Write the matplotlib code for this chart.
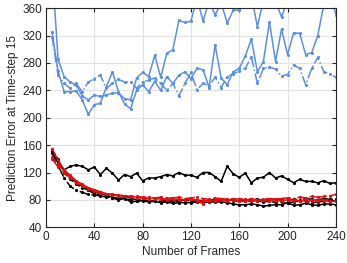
import numpy as np
import matplotlib
matplotlib.use("Agg")
import matplotlib.pyplot as plt

plt.rcParams['font.family'] = ['Liberation Sans', 'DejaVu Sans']

# Number of frames (x) shared by every curve
frames = list(range(5, 241, 5))

# Blue group
blue_solid_a = [420, 285, 260, 252, 248, 232, 226, 233, 231, 233, 236, 236, 228, 226, 258, 266,
                260, 291, 259, 294, 299, 342, 339, 341, 375, 341, 370, 350, 368, 338, 357, 357,
                365, 378, 333, 372, 380, 370, 347, 372, 380, 376, 390, 382, 388, 392, 385, 350]
blue_solid_b = [325, 268, 238, 238, 239, 226, 205, 219, 221, 245, 267, 238, 220, 213, 240, 248,
                238, 253, 240, 260, 250, 262, 267, 257, 272, 270, 244, 306, 258, 248, 267, 272,
                290, 315, 267, 282, 340, 282, 329, 292, 324, 323, 292, 295, 320, 365, 420, 430]
blue_dashdot = [318, 262, 250, 243, 250, 238, 252, 257, 262, 243, 250, 256, 252, 252, 243, 252,
                255, 258, 250, 240, 250, 232, 250, 266, 241, 250, 247, 259, 244, 260, 264, 268,
                272, 289, 250, 272, 274, 271, 261, 263, 277, 272, 248, 272, 288, 267, 264, 259]

# Black group
black_upper = [151, 134, 124, 129, 131, 129, 124, 128, 117, 126, 119, 109, 117, 114, 119, 108,
               112, 112, 114, 117, 115, 120, 116, 116, 113, 120, 120, 114, 107, 129, 118, 113,
               119, 105, 112, 113, 120, 112, 115, 110, 105, 110, 107, 107, 105, 108, 104, 105]
black_solid = [150, 138, 122, 113, 105, 100, 95, 92, 89, 87, 84, 82, 83, 77, 78, 79,
               77, 78, 76, 77, 75, 76, 76, 76, 77, 76, 77, 77, 77, 76, 74, 73,
               73, 74, 73, 71, 72, 73, 73, 76, 72, 73, 75, 73, 72, 74, 74, 73]
black_dashdot = [148, 130, 112, 100, 94, 91, 88, 87, 86, 84, 83, 82, 84, 83, 80, 80,
                 78, 79, 78, 79, 78, 79, 80, 78, 79, 80, 79, 81, 80, 79, 81, 80,
                 79, 80, 81, 79, 80, 81, 80, 79, 81, 80, 82, 81, 80, 82, 81, 81]
black_dashed = [152, 140, 120, 110, 103, 98, 94, 89, 87, 85, 83, 80, 82, 80, 78, 80,
                79, 78, 77, 79, 78, 78, 79, 80, 79, 78, 80, 79, 80, 79, 78, 79,
                78, 78, 79, 77, 78, 76, 77, 75, 77, 79, 78, 76, 77, 78, 79, 79]

# Red group
red_solid = [155, 138, 124, 116, 108, 103, 98, 95, 92, 89, 88, 87, 86, 85, 84, 83,
             82, 83, 81, 80, 81, 80, 80, 81, 79, 78, 80, 79, 80, 79, 80, 78,
             79, 78, 79, 80, 79, 78, 79, 80, 78, 79, 78, 79, 80, 79, 78, 78]
red_dashed = [142, 132, 122, 114, 106, 100, 96, 93, 90, 88, 87, 86, 85, 84, 83, 83,
              82, 82, 82, 81, 82, 81, 80, 81, 80, 74, 79, 80, 81, 80, 82, 81,
              80, 81, 79, 80, 81, 80, 82, 81, 80, 79, 81, 80, 79, 80, 77, 78]
red_dashdot = [140, 128, 120, 112, 105, 101, 97, 94, 91, 89, 88, 87, 86, 85, 85, 84,
               84, 83, 84, 83, 83, 84, 82, 83, 84, 82, 81, 83, 82, 81, 80, 82,
               81, 82, 80, 81, 82, 81, 82, 83, 82, 84, 83, 85, 84, 85, 86, 88]

blue = '#5b8fe6'
red = '#dd1111'

fig = plt.figure(figsize=(3.47, 2.63), dpi=100)
ax = fig.add_axes([0.1326, 0.1357, 0.8354, 0.8335])

series = [
    (blue_solid_a, blue, '-'),
    (blue_solid_b, blue, '-'),
    (blue_dashdot, blue, '-.'),
    (black_upper, 'k', '-'),
    (black_solid, 'k', '-'),
    (black_dashdot, 'k', '-.'),
    (black_dashed, 'k', '--'),
    (red_solid, red, '-'),
    (red_dashed, red, '--'),
    (red_dashdot, red, '-.'),
]
for vals, col, ls in series:
    ax.plot(frames, vals, color=col, linestyle=ls, linewidth=1.1,
            marker='.', markersize=2.5)

ax.set_xlim(0, 240)
ax.set_ylim(40, 360)
ax.set_xticks(np.arange(0, 241, 40))
ax.set_yticks(np.arange(40, 361, 40))
ax.grid(True, color='#e2e2e2', linewidth=0.8)
ax.set_axisbelow(True)
ax.tick_params(direction='in', top=True, right=True, length=3, labelsize=8.5,
               colors='#262626', pad=3)
for s in ax.spines.values():
    s.set_color('#262626')
    s.set_linewidth(0.8)

ax.set_xlabel('Number of Frames', fontsize=8.5, color='#262626', labelpad=2)
ax.set_ylabel('Prediction Error at Time-step 15', fontsize=8.5, color='#262626', labelpad=2)

fig.savefig('out.png', dpi=100)
